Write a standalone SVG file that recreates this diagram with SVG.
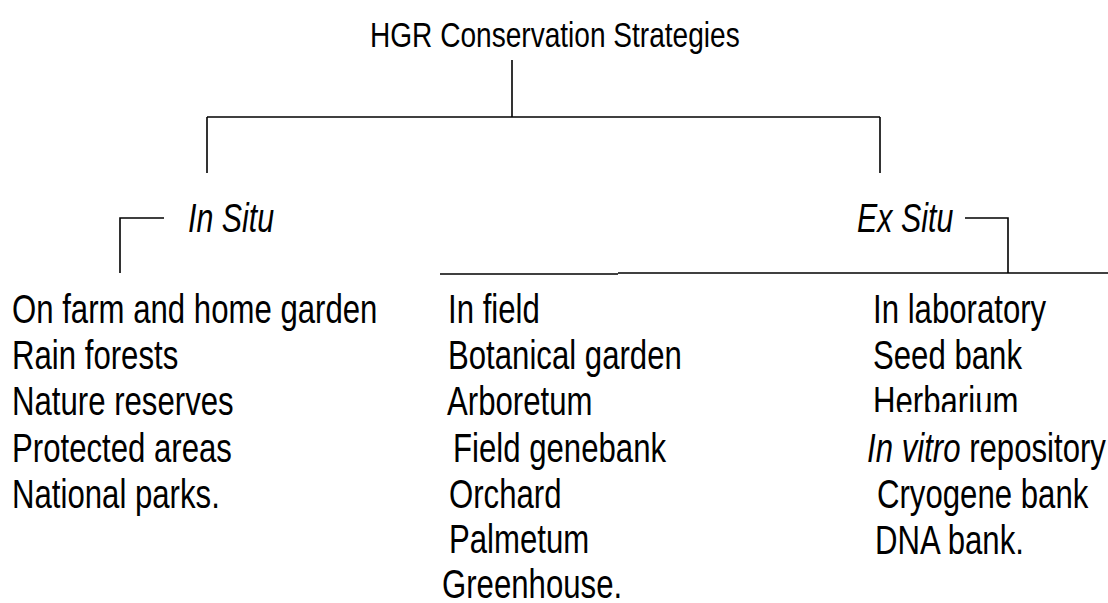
<svg xmlns="http://www.w3.org/2000/svg" width="1108" height="603" viewBox="0 0 1108 603">
<defs>
<style>
text{font-family:"Liberation Sans",Arial,sans-serif;fill:#000;}
.t{font-size:36px;}
.l{font-size:41px;}
.h{font-size:40px;font-style:italic;}
.c line,.c path{stroke:#000;stroke-width:1.6;fill:none;}
</style>
<clipPath id="clipH"><rect x="850" y="380" width="258" height="32"/></clipPath>
</defs>
<rect width="1108" height="603" fill="#fff"/>
<g class="c" id="connectors">
<line x1="512" y1="60" x2="512" y2="117"/>
<line x1="207" y1="117" x2="880" y2="117"/>
<line x1="207" y1="117" x2="207" y2="173"/>
<line x1="880" y1="117" x2="880" y2="173"/>
<path d="M164 218H120V273"/>
<path d="M965 218H1008V273"/>
<line x1="440" y1="274" x2="618" y2="274"/>
<line x1="618" y1="273" x2="1108" y2="273"/>
</g>
<g id="root"><text class="t" transform="translate(370,47) scale(0.78,1)">HGR Conservation Strategies</text></g>
<g id="insitu"><text class="h" transform="translate(188,232) scale(0.76,1)">In Situ</text></g>
<g id="exsitu"><text class="h" transform="translate(857,232) scale(0.76,1)">Ex Situ</text></g>
<g id="insitu-list">
<text class="l" transform="translate(12,323) scale(0.76,1)">On farm and home garden</text>
<text class="l" transform="translate(12,369) scale(0.76,1)">Rain forests</text>
<text class="l" transform="translate(12,415) scale(0.76,1)">Nature reserves</text>
<text class="l" transform="translate(12,462) scale(0.76,1)">Protected areas</text>
<text class="l" transform="translate(12,508) scale(0.76,1)">National parks.</text>
</g>
<g id="infield-list">
<text class="l" transform="translate(448,323) scale(0.76,1)">In field</text>
<text class="l" transform="translate(448,369) scale(0.76,1)">Botanical garden</text>
<text class="l" transform="translate(447,415) scale(0.76,1)">Arboretum</text>
<text class="l" transform="translate(453,462) scale(0.76,1)">Field genebank</text>
<text class="l" transform="translate(449,508) scale(0.76,1)">Orchard</text>
<text class="l" transform="translate(449,553) scale(0.76,1)">Palmetum</text>
<text class="l" transform="translate(442,598) scale(0.76,1)">Greenhouse.</text>
</g>
<g id="inlab-list">
<text class="l" transform="translate(873,323) scale(0.76,1)">In laboratory</text>
<text class="l" transform="translate(873,369) scale(0.76,1)">Seed bank</text>
<g clip-path="url(#clipH)"><text class="l" transform="translate(873,415) scale(0.76,1)">Herbarium</text></g>
<text class="l" transform="translate(867,462) scale(0.76,1)"><tspan font-style="italic">In vitro</tspan> repository</text>
<text class="l" transform="translate(877,508) scale(0.76,1)">Cryogene bank</text>
<text class="l" transform="translate(875,554) scale(0.76,1)">DNA bank.</text>
</g>
</svg>
